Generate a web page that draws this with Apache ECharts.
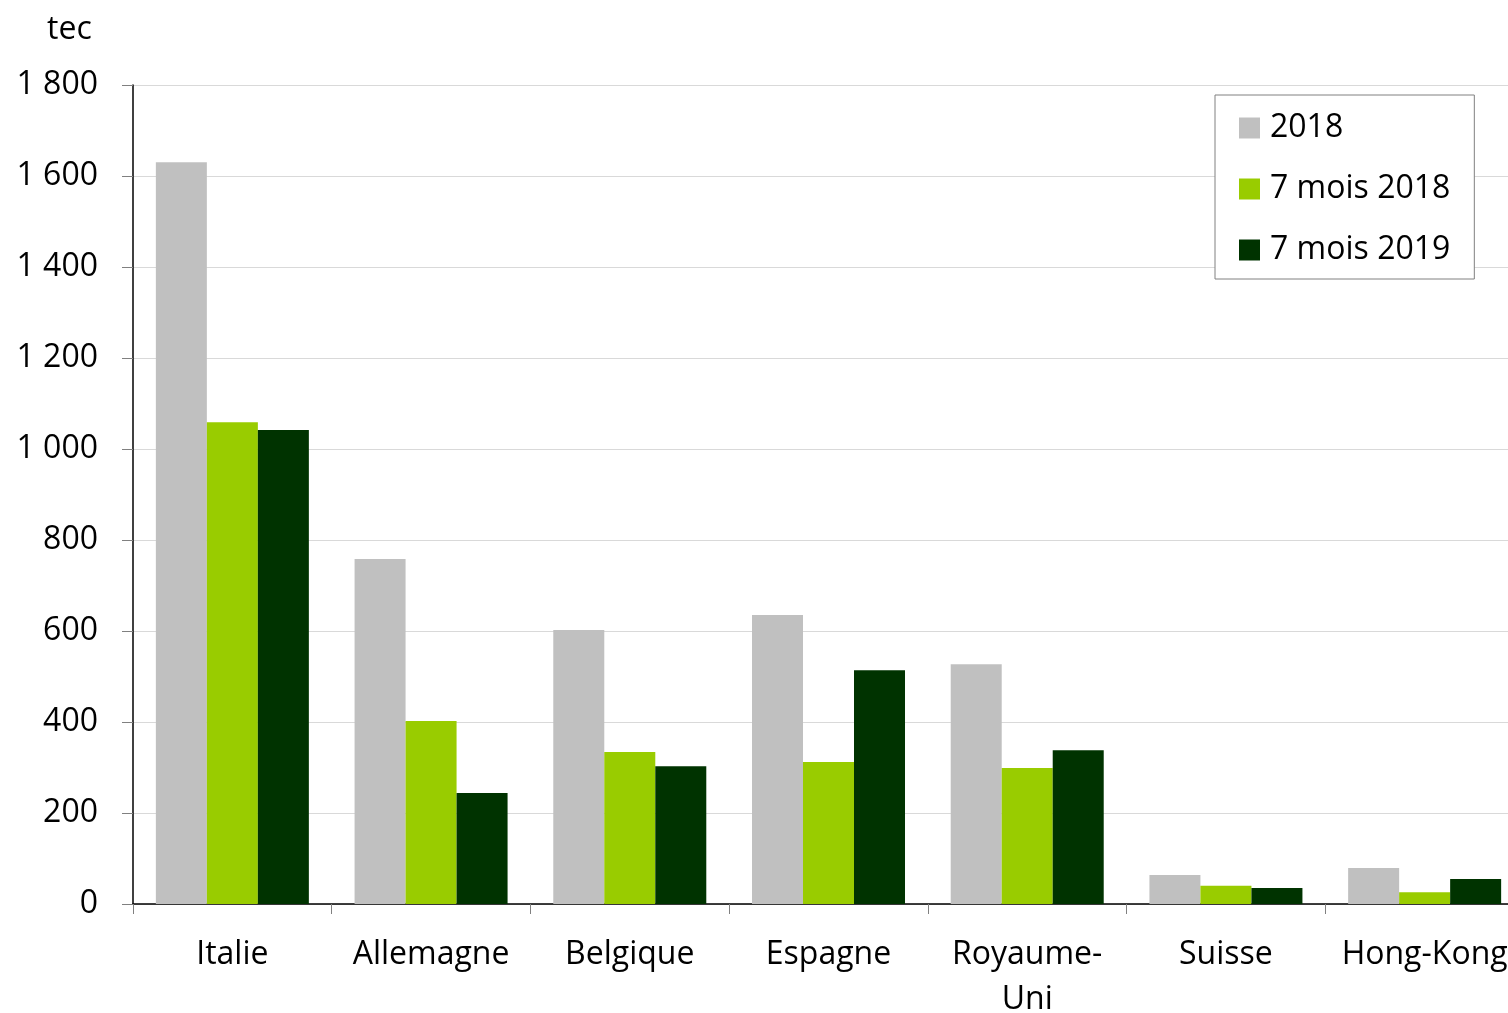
<!DOCTYPE html>
<html><head><meta charset="utf-8">
<script src="https://cdn.jsdelivr.net/npm/echarts@6/dist/echarts.min.js"></script>
<style>html,body{margin:0;padding:0;background:#fff;overflow:hidden}#c{width:1508px;height:1013px}</style>
</head><body><div id="c"></div>
<script>
const categories = ['Italie', 'Allemagne', 'Belgique', 'Espagne', 'Royaume-\nUni', 'Suisse', 'Hong-Kong'];
const s2018 = [1630, 758, 602, 635, 527, 64, 79];
const s7m2018 = [1059, 402, 334, 312, 299, 40, 26];
const s7m2019 = [1042, 244, 303, 514, 338, 35, 55];
const seriesNames = ['2018', '7 mois 2018', '7 mois 2019'];
const colors = ['#c0c0c0', '#99cc00', '#003300'];

const FONT = 'Open Sans';
const chart = echarts.init(document.getElementById('c'));
const mk = (name, data, color) => ({
  name, type: 'bar', data, barGap: 0, barCategoryGap: '23%',
  itemStyle: { color }, animation: false
});
chart.setOption({
  animation: false,
  textStyle: { fontFamily: FONT, color: '#000' },
  title: { text: 'tec', left: 42, top: 9, textStyle: { fontFamily: FONT, fontSize: 32, fontWeight: 'normal', color: '#000' } },
  legend: {
    orient: 'vertical', left: 1215, top: 95,
    padding: [17, 24, 13, 24],
    itemWidth: 21, itemHeight: 21, itemGap: 29,
    borderColor: '#808080', borderWidth: 1, backgroundColor: '#fff',
    icon: 'rect',
    textStyle: { fontFamily: FONT, fontSize: 32, color: '#000', lineHeight: 32, padding: [0, 0, 0, 5] },
    data: seriesNames
  },
  grid: { left: 133, top: 85, width: 1391, height: 819, containLabel: false, outerBoundsMode: 'none' },
  xAxis: {
    type: 'category', data: categories,
    axisLine: { lineStyle: { color: '#000', width: 1.5 } },
    axisTick: { show: true, length: 10, lineStyle: { color: '#808080' } },
    axisLabel: { fontFamily: FONT, fontSize: 32, color: '#000', margin: 28, lineHeight: 45, interval: 0 }
  },
  yAxis: {
    type: 'value', min: 0, max: 1800, interval: 200,
    axisLine: { show: true, lineStyle: { color: '#000', width: 1.5 } },
    axisTick: { show: true, length: 11, lineStyle: { color: '#808080' } },
    splitLine: { lineStyle: { color: '#d9d9d9', width: 1 } },
    axisLabel: {
      fontFamily: FONT, fontSize: 32, color: '#000', margin: 35, padding: [4, 0, 0, 0],
      formatter: v => String(v).replace(/\B(?=(\d{3})+(?!\d))/g, ' ')
    }
  },
  series: [
    mk(seriesNames[0], s2018, colors[0]),
    mk(seriesNames[1], s7m2018, colors[1]),
    mk(seriesNames[2], s7m2019, colors[2])
  ]
});
</script></body></html>
